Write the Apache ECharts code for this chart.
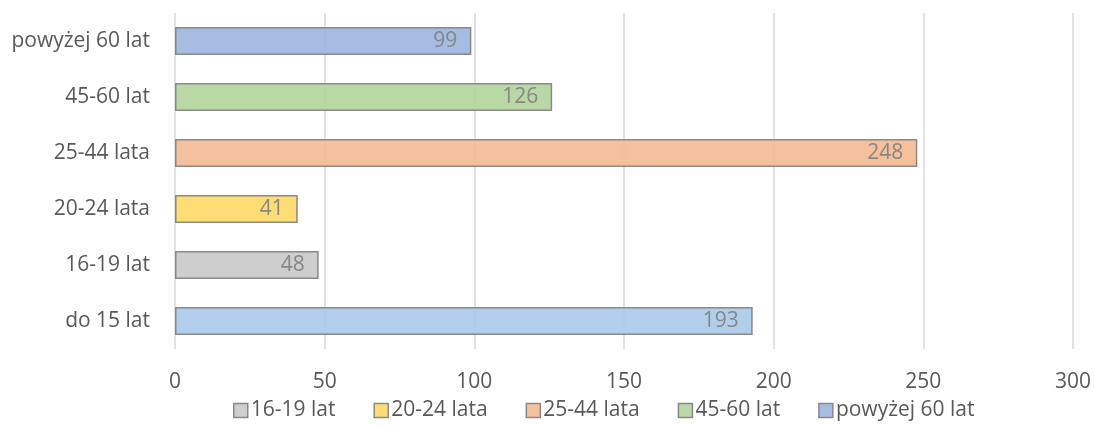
<!DOCTYPE html>
<html><head><meta charset="utf-8">
<script src="https://cdn.jsdelivr.net/npm/echarts@6/dist/echarts.min.js"></script>
<style>html,body{margin:0;padding:0;background:#fff}#c{width:1094px;height:426px}</style>
</head><body><div id="c"></div>
<script>
var categories = ['do 15 lat','16-19 lat','20-24 lata','25-44 lata','45-60 lat','powyżej 60 lat'];
var values = [193, 48, 41, 248, 126, 99];
var colors = ['#A9C9E8','#C9C9C9','#FFD966','#F4B992','#B3D49C','#9CB5E0'];
var legendNames = ['16-19 lat','20-24 lata','25-44 lata','45-60 lat','powyżej 60 lat'];
var xTicks = [0,50,100,150,200,250,300];

var FONT = '"Open Sans", sans-serif';
var FS = 21;
var series = categories.map(function(name, i){
  var d = categories.map(function(c, j){ return j === i ? values[i] : null; });
  return {
    name: name, type: 'bar', stack: 'all', data: d, barWidth: 28,
    itemStyle: { color: colors[i], opacity: 0.9, borderColor: '#7F7F7F', borderWidth: 1.5 },
    label: { show: true, position: 'insideRight', color: '#7F7F7F', fontSize: FS, fontFamily: FONT, distance: 14,
      formatter: function(p){ return p.value == null ? '' : p.value; } },
    emphasis: { disabled: true }
  };
});

var chart = echarts.init(document.getElementById('c'));
chart.setOption({
  animation: false,
  grid: { left: 175, right: 19, top: 13, bottom: 77, containLabel: false },
  xAxis: {
    type: 'value', min: xTicks[0], max: xTicks[xTicks.length-1], interval: 50,
    axisLine: { show: false }, axisTick: { show: false },
    splitLine: { lineStyle: { color: '#D9D9D9', width: 1.5 } },
    axisLabel: { color: '#595959', fontSize: FS, fontFamily: FONT, margin: 23 }
  },
  yAxis: {
    type: 'category', data: categories,
    axisLine: { show: false }, axisTick: { show: false },
    axisLabel: { color: '#595959', fontSize: FS, fontFamily: FONT, margin: 25 }
  },
  legend: {
    data: legendNames, bottom: 0, left: 228, itemWidth: 14, itemHeight: 14, itemGap: 38,
    icon: 'rect',
    textStyle: { color: '#595959', fontSize: FS, fontFamily: FONT, padding: [0,0,0,-2] },
    itemStyle: { borderColor: '#7F7F7F', borderWidth: 1.5 }
  },
  series: series
});
</script></body></html>
